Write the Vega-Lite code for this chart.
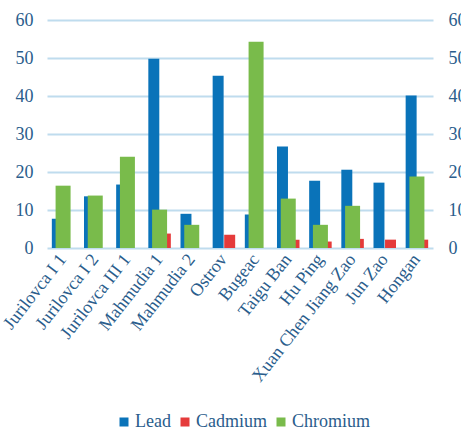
{
  "$schema": "https://vega.github.io/schema/vega-lite/v6.json",
  "width": 386,
  "height": 228,
  "autosize": "none",
  "padding": {"left": 47, "top": 20, "right": 28, "bottom": 181},
  "background": "white",
  "config": {
    "view": {"stroke": null},
    "font": "Times New Roman, Liberation Serif, serif",
    "axis": {"labelFont": "Times New Roman, Liberation Serif, serif", "labelColor": "#2a5d8c", "labelFontSize": 18},
    "legend": {"labelFont": "Times New Roman, Liberation Serif, serif", "labelColor": "#2a5d8c", "labelFontSize": 18}
  },
  "data": {
    "values": [
      {"site": "Jurilovca I 1", "metal": "Lead", "value": 7.7},
      {"site": "Jurilovca I 2", "metal": "Lead", "value": 13.6},
      {"site": "Jurilovca III 1", "metal": "Lead", "value": 16.7},
      {"site": "Mahmudia 1", "metal": "Lead", "value": 49.8},
      {"site": "Mahmudia 2", "metal": "Lead", "value": 9.0},
      {"site": "Ostrov", "metal": "Lead", "value": 45.3},
      {"site": "Bugeac", "metal": "Lead", "value": 8.8},
      {"site": "Taigu Ban", "metal": "Lead", "value": 26.7},
      {"site": "Hu Ping", "metal": "Lead", "value": 17.7},
      {"site": "Xuan Chen Jiang Zao", "metal": "Lead", "value": 20.6},
      {"site": "Jun Zao", "metal": "Lead", "value": 17.2},
      {"site": "Hongan", "metal": "Lead", "value": 40.1},
      {"site": "Jurilovca I 1", "metal": "Cadmium", "value": 0},
      {"site": "Jurilovca I 2", "metal": "Cadmium", "value": 0},
      {"site": "Jurilovca III 1", "metal": "Cadmium", "value": 0},
      {"site": "Mahmudia 1", "metal": "Cadmium", "value": 3.8},
      {"site": "Mahmudia 2", "metal": "Cadmium", "value": 0},
      {"site": "Ostrov", "metal": "Cadmium", "value": 3.5},
      {"site": "Bugeac", "metal": "Cadmium", "value": 0},
      {"site": "Taigu Ban", "metal": "Cadmium", "value": 2.2},
      {"site": "Hu Ping", "metal": "Cadmium", "value": 1.7},
      {"site": "Xuan Chen Jiang Zao", "metal": "Cadmium", "value": 2.4},
      {"site": "Jun Zao", "metal": "Cadmium", "value": 2.2},
      {"site": "Hongan", "metal": "Cadmium", "value": 2.2},
      {"site": "Jurilovca I 1", "metal": "Chromium", "value": 16.4},
      {"site": "Jurilovca I 2", "metal": "Chromium", "value": 13.8},
      {"site": "Jurilovca III 1", "metal": "Chromium", "value": 24.0},
      {"site": "Mahmudia 1", "metal": "Chromium", "value": 10.1},
      {"site": "Mahmudia 2", "metal": "Chromium", "value": 6.1},
      {"site": "Ostrov", "metal": "Chromium", "value": 0},
      {"site": "Bugeac", "metal": "Chromium", "value": 54.3},
      {"site": "Taigu Ban", "metal": "Chromium", "value": 13.0},
      {"site": "Hu Ping", "metal": "Chromium", "value": 6.1},
      {"site": "Xuan Chen Jiang Zao", "metal": "Chromium", "value": 11.1},
      {"site": "Jun Zao", "metal": "Chromium", "value": 0},
      {"site": "Hongan", "metal": "Chromium", "value": 18.8}
    ]
  },
  "encoding": {
    "x": {
      "field": "site", "type": "nominal", "sort": null, "title": null,
      "scale": {"paddingInner": 0.3, "paddingOuter": 0.15},
      "axis": {"labelAngle": -52, "ticks": false, "domain": false, "labelPadding": 8, "labelBound": false, "labelOverlap": false}
    },
    "color": {
      "field": "metal", "type": "nominal", "title": null,
      "scale": {"domain": ["Lead", "Cadmium", "Chromium"], "range": ["#0a73b9", "#e53b3b", "#79bb4b"]},
      "legend": {"orient": "none", "direction": "horizontal", "legendX": 68, "legendY": 393, "symbolType": "square", "symbolSize": 81, "symbolStrokeWidth": 0, "columnPadding": 5, "labelOffset": 2, "labelFont": "Times New Roman, Liberation Serif, serif", "labelFontSize": 18, "labelColor": "#2a5d8c"}
    }
  },
  "layer": [
    {
      "transform": [{"filter": "datum.metal != 'Chromium'"}],
      "mark": {"type": "bar"},
      "encoding": {
        "xOffset": {"field": "metal", "type": "nominal", "sort": ["Lead", "Cadmium"], "scale": {"paddingInner": 0.05}},
        "y": {
          "field": "value", "type": "quantitative", "title": null,
          "scale": {"domain": [0, 60]},
          "axis": {"orient": "left", "values": [0, 10, 20, 30, 40, 50, 60], "grid": true, "gridColor": "#bfdcee", "gridWidth": 2, "ticks": false, "domain": false, "labelPadding": 14, "labelFont": "Times New Roman, Liberation Serif, serif"}
        }
      }
    },
    {
      "transform": [{"filter": "datum.metal == 'Chromium'"}],
      "mark": {"type": "bar", "width": 15},
      "encoding": {
        "y": {
          "field": "value", "type": "quantitative", "title": null,
          "scale": {"domain": [0, 60]},
          "axis": {"orient": "right", "values": [0, 10, 20, 30, 40, 50, 60], "grid": false, "ticks": false, "domain": false, "labelPadding": 15, "labelFont": "Times New Roman, Liberation Serif, serif"}
        }
      }
    }
  ],
  "resolve": {"axis": {"y": "independent"}}
}
